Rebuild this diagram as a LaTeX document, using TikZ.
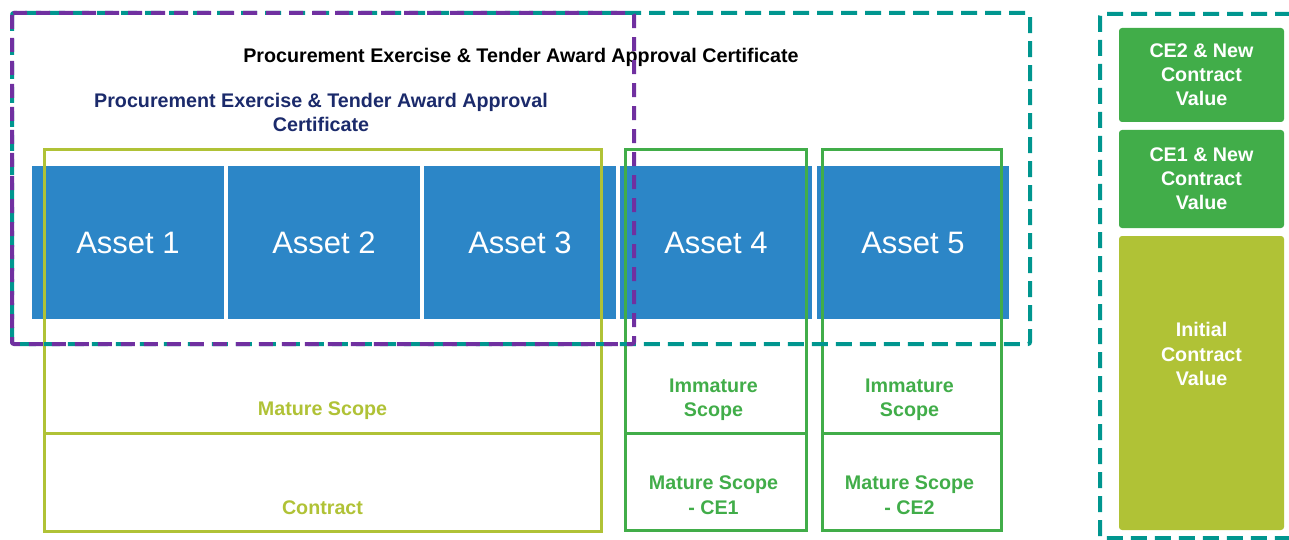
\documentclass[tikz,border=0pt]{standalone}
\usepackage{fontspec}
\setmainfont{Liberation Sans}
\usetikzlibrary{positioning}
\definecolor{assetblue}{RGB}{44,134,199}
\definecolor{matlime}{RGB}{176,194,54}
\definecolor{ceGreen}{RGB}{65,173,73}
\definecolor{certteal}{RGB}{0,150,143}
\definecolor{certpurple}{RGB}{112,48,160}
\definecolor{certnavy}{RGB}{27,42,107}
\tikzset{
  asset/.style={fill=assetblue, text=white, inner sep=0pt,
    minimum width=192pt, minimum height=153pt, font=\fontsize{31}{37}\selectfont},
  cell/.style={draw=#1, line width=3pt, inner sep=0pt, outer sep=0pt, anchor=north west},
  lbl/.style={text=#1, align=center, inner sep=0pt,
    font=\fontsize{19.7}{24.5}\selectfont\bfseries},
  valuebox/.style={fill=#1, text=white, rounded corners=3pt, inner sep=0pt,
    outer sep=0pt, anchor=north west, minimum width=165pt, align=center,
    font=\fontsize{19.7}{24}\selectfont\bfseries},
  certbox/.style={draw=#1, line width=4pt, rounded corners=2pt}
}
\begin{document}
\begin{tikzpicture}[x=1pt,y=-1pt]
\useasboundingbox (0,0) rectangle (1289,540);
% the asset band
\foreach \i/\x in {1/128,2/324,3/520,4/716,5/913}
  \node[asset] (asset\i) at (\x,242.5) {Asset \i};
% mature scope and contract (assets 1-3)
\node[cell=matlime, minimum width=557pt, minimum height=283pt] (mature) at (44,150) {};
\node[cell=matlime, minimum width=557pt, minimum height=98pt] (contract) at (mature.south west) {};
\node[lbl=matlime] (matureLbl) at ([yshift=22pt]mature.south) {Mature Scope};
\node[lbl=matlime] (contractLbl) at ([yshift=23pt]contract.south) {Contract};
% immature scope / CE boxes (assets 4 and 5)
\foreach \n/\x/\w in {1/625/181, 2/822/179} {
  \node[cell=ceGreen, minimum width=\w pt, minimum height=283pt] (immature\n) at (\x,150) {};
  \node[cell=ceGreen, minimum width=\w pt, minimum height=97pt] (ce\n) at (immature\n.south west) {};
  \node[lbl=ceGreen] (immatureLbl\n) at ([xshift=-2pt,yshift=33pt]immature\n.south) {Immature\\Scope};
  \node[lbl=ceGreen] (ceLbl\n) at ([xshift=-2pt,yshift=35pt]ce\n.south) {Mature Scope\\- CE\n};
}
% contract value column
\node[valuebox=ceGreen, minimum height=94pt] (value2) at (1119,28) {CE2 \& New\\Contract\\Value};
\node[valuebox=ceGreen, minimum height=98pt] (value1) at (1119,130) {CE1 \& New\\Contract\\Value};
\node[valuebox=matlime, minimum height=294pt] (value0) at (1119,236) {};
\node[lbl=white] (value0Lbl) at ([yshift=-118pt]value0.north) {Initial\\Contract\\Value};
% certificate titles
\node[lbl=black] (certAll) at (521,57) {Procurement Exercise \& Tender Award Approval Certificate};
\node[lbl=certnavy] (certPart) at (321,112.5) {Procurement Exercise \& Tender Award Approval\\Certificate};
% dashed certificate outlines
\draw[certbox=certteal, dash pattern=on 16pt off 8pt] (12,13) rectangle (1030,344);
\draw[certbox=certteal, dash pattern=on 16pt off 8pt] (1100,14) rectangle (1310,538);
\draw[certbox=certpurple, dash pattern=on 14pt off 9pt] (12,13) rectangle (634,344);
\end{tikzpicture}
\end{document}
